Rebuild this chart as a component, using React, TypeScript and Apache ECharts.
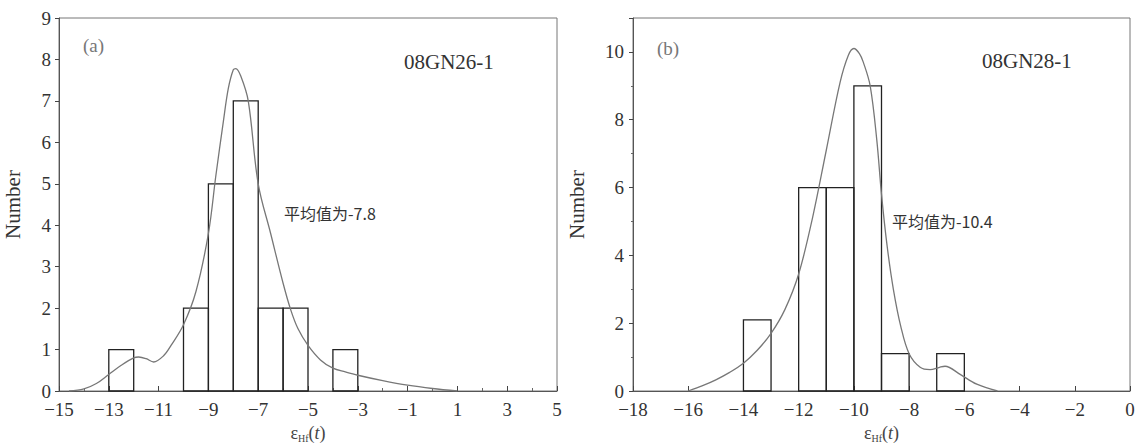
import React, { useEffect, useRef } from "react";
import * as echarts from "echarts";

// Panel (a) histogram: bin starts (width 1) and counts
const binStartA = [-13, -10, -9, -8, -7, -6, -4];
const countA = [1, 2, 5, 7, 2, 2, 1];
// Panel (a) fitted curve
const curveAx = [-14.6, -14, -13.5, -13, -12.5, -12, -11.8, -11.5, -11.2, -10.8, -10.5, -10, -9.5, -9, -8.7, -8.4, -8.2, -8.0, -7.9, -7.7, -7.4, -7.0, -6.5, -6, -5.7, -5.4, -5, -4.5, -4, -3.5, -3, -2, -1, 0, 1];
const curveAy = [0, 0.05, 0.18, 0.4, 0.62, 0.8, 0.82, 0.78, 0.7, 0.85, 1.1, 1.6, 2.4, 3.8, 5.2, 6.5, 7.3, 7.75, 7.78, 7.6, 7.0, 5.0, 3.8, 2.6, 1.97, 1.5, 1.1, 0.75, 0.55, 0.46, 0.38, 0.25, 0.14, 0.06, 0];

// Panel (b) histogram
const binStartB = [-14, -12, -11, -10, -9, -7];
const countB = [2.1, 6, 6, 9, 1.1, 1.1];
// Panel (b) fitted curve
const curveBx = [-16, -15.5, -15, -14.5, -14, -13.5, -13, -12.5, -12, -11.5, -11, -10.5, -10.2, -10, -9.8, -9.66, -9.41, -9.17, -9, -8.8, -8.57, -8.3, -8, -7.6, -7.24, -6.9, -6.7, -6.15, -5.55, -4.8];
const curveBy = [0, 0.15, 0.33, 0.55, 0.82, 1.2, 1.7, 2.4, 3.45, 5.1, 7.1, 9.1, 9.9, 10.1, 9.95, 9.7, 9.0, 7.4, 5.8, 4.3, 3.0, 1.9, 1.1, 0.7, 0.63, 0.7, 0.73, 0.49, 0.2, 0];

const meanA = "平均值为-7.8";
const meanB = "平均值为-10.4";
const sampleA = "08GN26-1";
const sampleB = "08GN28-1";

const SERIF = "Liberation Serif";
const CJK = "Noto Sans CJK SC";

const fmtX = (v: number) => "{t|" + (v < 0 ? "\u2212" + Math.abs(v) : String(v)) + "}";
const fmtY = (v: number) => "{t|" + String(v) + "}";
const fmtY2 = (v: number) => (v === 11 ? "" : "{t|" + String(v) + "}");

function histData(starts: number[], counts: number[]) {
  return starts.map((s, i) => [s, s + 1, counts[i]]);
}

function renderBar(params: any, api: any) {
  const x0 = api.value(0);
  const x1 = api.value(1);
  const y = api.value(2);
  const p0 = api.coord([x0, y]);
  const p1 = api.coord([x1, 0]);
  return {
    type: "rect",
    shape: { x: p0[0], y: p0[1], width: p1[0] - p0[0], height: p1[1] - p0[1] },
    style: { fill: "none", stroke: "#222", lineWidth: 1.3 },
  };
}

const axisLine = { show: true, onZero: false, lineStyle: { color: "#555", width: 1 } };
const labelRich = { t: { color: "#333", fontFamily: SERIF, fontSize: 19 } };
const xName = {
  name: "{e|ε}{s|Hf}{p|(}{i|t}{p|)}",
  nameLocation: "middle" as const,
  nameGap: 32,
  nameTextStyle: {
    rich: {
      e: { fontFamily: SERIF, fontSize: 18, color: "#444" },
      s: { fontFamily: SERIF, fontSize: 10, color: "#444", padding: [10, 0, 0, 0] },
      p: { fontFamily: SERIF, fontSize: 18, color: "#444" },
      i: { fontFamily: SERIF, fontSize: 18, color: "#444", fontStyle: "italic" },
    },
  },
};
const yName = {
  name: "Number",
  nameLocation: "middle" as const,
  nameRotate: 90,
  nameTextStyle: { fontFamily: SERIF, fontSize: 21, color: "#333" },
};

export default function App() {
  const ref = useRef<HTMLDivElement>(null);
  useEffect(() => {
    if (!ref.current) return;
    const chart = echarts.init(ref.current, undefined, { renderer: "svg" });
    chart.setOption({
      animation: false,
      backgroundColor: "#fff",
      textStyle: { fontFamily: SERIF },
      grid: [
        { left: 59, top: 18, width: 498, height: 378, show: true, borderColor: "#777", borderWidth: 1 },
        { left: 633, top: 18, width: 497, height: 379, show: true, borderColor: "#777", borderWidth: 1 },
      ],
      xAxis: [
        {
          gridIndex: 0, type: "value", min: -15, max: 5, interval: 2,
          axisLine, splitLine: { show: false },
          axisTick: { show: true, inside: true, length: 5, lineStyle: { color: "#444" } },
          minorTick: { show: true, splitNumber: 2, length: 3, lineStyle: { color: "#666" } },
          axisLabel: { margin: 9, formatter: fmtX, rich: labelRich, fontFamily: SERIF, fontSize: 19 },
          ...xName,
        },
        {
          gridIndex: 1, type: "value", min: -18, max: 0, interval: 2,
          axisLine, splitLine: { show: false },
          axisTick: { show: true, inside: true, length: 5, lineStyle: { color: "#444" } },
          axisLabel: { margin: 9, formatter: fmtX, rich: labelRich, fontFamily: SERIF, fontSize: 19 },
          ...xName,
        },
      ],
      yAxis: [
        {
          gridIndex: 0, type: "value", min: 0, max: 9, interval: 1,
          axisLine, splitLine: { show: false },
          axisTick: { show: true, inside: false, length: 4, lineStyle: { color: "#444" } },
          axisLabel: { margin: 8, formatter: fmtY, rich: labelRich, fontFamily: SERIF, fontSize: 19 },
          nameGap: 36,
          ...yName,
        },
        {
          gridIndex: 1, type: "value", min: 0, max: 11, interval: 2,
          axisLine, splitLine: { show: false },
          axisTick: { show: true, inside: false, length: 4, lineStyle: { color: "#444" } },
          minorTick: { show: true, splitNumber: 2, length: 2, lineStyle: { color: "#666" } },
          axisLabel: { margin: 9, formatter: fmtY2, rich: labelRich, fontFamily: SERIF, fontSize: 19 },
          nameGap: 46,
          ...yName,
        },
      ],
      series: [
        {
          type: "custom", xAxisIndex: 0, yAxisIndex: 0,
          data: histData(binStartA, countA), renderItem: renderBar, silent: true,
        },
        {
          type: "line", xAxisIndex: 0, yAxisIndex: 0, smooth: 0.35, showSymbol: false,
          lineStyle: { color: "#777", width: 1.3 },
          data: curveAx.map((x, i) => [x, curveAy[i]]),
        },
        {
          type: "custom", xAxisIndex: 1, yAxisIndex: 1,
          data: histData(binStartB, countB), renderItem: renderBar, silent: true,
        },
        {
          type: "line", xAxisIndex: 1, yAxisIndex: 1, smooth: 0.35, showSymbol: false,
          lineStyle: { color: "#777", width: 1.3 },
          data: curveBx.map((x, i) => [x, curveBy[i]]),
        },
      ],
      graphic: [
        { type: "text", left: 83, top: 36, style: { text: "(a)", fontFamily: SERIF, fontSize: 19, fill: "#777" } },
        { type: "text", left: 657, top: 39, style: { text: "(b)", fontFamily: SERIF, fontSize: 19, fill: "#777" } },
        { type: "text", left: 404, top: 51, style: { text: sampleA, fontFamily: SERIF, fontSize: 21, fill: "#333" } },
        { type: "text", left: 982, top: 50, style: { text: sampleB, fontFamily: SERIF, fontSize: 21, fill: "#333" } },
        { type: "text", left: 284, top: 205, style: { text: meanA, fontFamily: CJK, fontSize: 16, fill: "#333" } },
        { type: "text", left: 892, top: 213, style: { text: meanB, fontFamily: CJK, fontSize: 16, fill: "#333" } },
      ],
    });
    return () => chart.dispose();
  }, []);
  return <div ref={ref} style={{ position: "fixed", left: 0, top: 0, width: 1138, height: 448 }} />;
}
